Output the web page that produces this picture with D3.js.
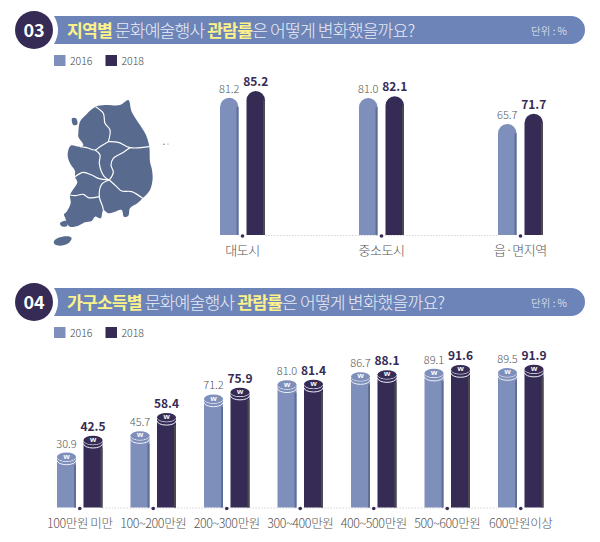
<!DOCTYPE html>
<html>
<head>
<meta charset="utf-8">
<script src="https://cdn.jsdelivr.net/npm/d3@7"></script>
<style>
  html, body { margin: 0; padding: 0; background: #fff; }
  svg { display: block; }
  text { font-family: "Noto Sans CJK KR", "Noto Sans", sans-serif; }
</style>
</head>
<body>
<div id="chart"></div>
<script>
const years = ['2016', '2018']

const regionNames = ['대도시', '중소도시', '읍·면지역']
const region2016 = [81.2, 81.0, 65.7]
const region2018 = [85.2, 82.1, 71.7]

const incomeNames = ['100만원 미만', '100~200만원', '200~300만원', '300~400만원', '400~500만원', '500~600만원', '600만원이상']
const income2016 = [30.9, 45.7, 71.2, 81.0, 86.7, 89.1, 89.5]
const income2018 = [42.5, 58.4, 75.9, 81.4, 88.1, 91.6, 91.9]

const light = '#7f8fbb'
const dark = '#352b55'
const banner = '#6d84b8'
const yellow = '#fdf28a'
const mapBlue = '#586b8f'

const svg = d3.select('#chart').append('svg').attr('width', 600).attr('height', 542)

function drawHeader(y, num, parts) {
  const g = svg.append('g').attr('transform', `translate(0, ${y})`)
  // banner with rounded right end, notched by the white ring of the badge
  g.append('path').attr('fill', banner)
    .attr('d', 'M54,0 H571 a14,14 0 0 1 0,28 H54 Q62,14 54,0 Z')
  g.append('circle').attr('cx', 34).attr('cy', 14).attr('r', 19).attr('fill', dark)
  g.append('text').attr('x', 34).attr('y', 20.5).attr('text-anchor', 'middle')
    .attr('fill', '#fff').attr('font-size', 18).attr('font-weight', 700).text(num)
  const t = g.append('text').attr('x', 67).attr('y', 20.5).attr('font-size', 17.2).attr('letter-spacing', -0.87)
  parts.forEach(p => {
    t.append('tspan').text(p[0])
      .attr('fill', p[1] ? yellow : '#e8ebf5')
      .attr('font-weight', p[1] ? 700 : 300)
  })
  g.append('text').attr('x', 531).attr('y', 18.5).attr('font-size', 10.5).attr('font-weight', 300)
    .attr('fill', '#eef0f7').text('단위 : %')
}

function drawLegend(y) {
  const g = svg.append('g').attr('transform', `translate(54, ${y})`)
  years.forEach((yr, i) => {
    g.append('rect').attr('x', i * 51.5).attr('y', 0).attr('width', 11.5).attr('height', 11)
      .attr('fill', i ? dark : light)
    g.append('text').attr('x', i * 51.5 + 16).attr('y', 10).attr('font-size', 10.5)
      .attr('font-weight', 300).attr('fill', '#444').text(yr)
  })
}

function drawBars(opts) {
  const { names, a, b, y, x0, step, barW, gap, baseY, coin, labelSize } = opts
  const g = svg.append('g')
  const xBand = d3.scalePoint().domain(names).range([x0, x0 + step * (names.length - 1)])

  // dotted base line between the groups
  g.append('line').attr('x1', x0 + barW * 2 + gap).attr('x2', x0 + step * (names.length - 1))
    .attr('y1', baseY + 0.5).attr('y2', baseY + 0.5)
    .attr('stroke', '#ccc').attr('stroke-width', 0.8).attr('stroke-dasharray', '1.5 1.5')

  names.forEach((name, i) => {
    const left = xBand(name)
    ;[a[i], b[i]].forEach((v, s) => {
      const bx = left + s * (barW + gap)
      const top = y(v)
      const fill = s ? dark : light
      const shade = s ? '#4a4a4f' : '#5f6f95'
      if (coin) {
        const ry = 4.3
        const rx = barW / 2
        const cy = top + ry
        g.append('rect').attr('x', bx).attr('y', cy).attr('width', barW).attr('height', baseY - cy).attr('fill', fill)
        g.append('rect').attr('x', bx + barW - 2).attr('y', cy + 8).attr('width', 2).attr('height', baseY - cy - 8).attr('fill', shade)
        // the coin stack: white rims under the cap
        ;[3.6, 0.3].forEach(dy => {
          g.append('path').attr('fill', 'none').attr('stroke', '#eef0f8').attr('stroke-width', 1)
            .attr('d', `M${bx},${cy + dy} a${rx},${ry} 0 0 0 ${barW},0`)
        })
        g.append('ellipse').attr('cx', bx + rx).attr('cy', cy).attr('rx', rx).attr('ry', ry).attr('fill', fill)
        g.append('text').attr('x', bx + rx).attr('y', cy + 2).attr('text-anchor', 'middle')
          .style('font-family', '"Liberation Sans"')
          .attr('font-size', 8).attr('font-weight', 700).attr('fill', '#fff').text('w')
      } else {
        const r = barW / 2
        g.append('path').attr('fill', fill)
          .attr('d', `M${bx},${baseY} V${top + r} a${r},${r} 0 0 1 ${barW},0 V${baseY} Z`)
        g.append('path').attr('fill', shade)
          .attr('d', `M${bx + barW - 2},${baseY} V${top + r} a${r},${r} 0 0 1 2,0 V${baseY} Z`)
      }
      g.append('text').attr('x', bx + barW / 2).attr('y', top - 5)
        .attr('text-anchor', 'middle')
        .attr('font-size', s ? 12 : 11)
        .attr('font-weight', s ? 700 : 300)
        .attr('fill', s ? dark : '#555')
        .text(v.toFixed(1))
    })
    g.append('circle').attr('cx', left + barW + gap / 2).attr('cy', baseY + 1).attr('r', 1.8).attr('fill', dark)
    g.append('text').attr('x', left + barW + gap / 2).attr('y', baseY + 20)
      .attr('text-anchor', 'middle').attr('font-size', labelSize).attr('font-weight', 300)
      .attr('fill', '#555').attr('letter-spacing', -0.4).text(name)
  })
}

// Korea map, traced by hand at 3x
const mainland = [[137,35],[165,30],[210,30],[235,15],[245,50],[270,90],[288,120],[298,155],[300,200],[305,220],[308,250],[300,285],[278,310],[262,325],[240,340],[235,362],[222,365],[215,345],[195,350],[175,355],[160,345],[152,370],[135,365],[125,378],[105,382],[85,392],[60,395],[50,385],[47,372],[42,358],[50,350],[62,325],[60,300],[72,280],[82,262],[75,245],[75,228],[60,205],[53,180],[62,152],[88,155],[100,150],[85,125],[85,115],[90,80],[105,62]]
const borders = [
  [[137,35],[160,55],[165,85],[180,105],[175,140]],
  [[175,140],[150,155],[135,165],[110,158],[90,155]],
  [[175,140],[205,142],[240,158],[298,155]],
  [[240,158],[215,175],[190,190],[183,210],[190,232],[178,255]],
  [[135,165],[150,180],[148,205],[163,245],[178,255]],
  [[75,245],[100,232],[125,240],[145,250],[178,255]],
  [[178,255],[155,268],[148,305],[158,335],[160,345]],
  [[60,300],[75,302],[100,298],[115,308],[148,305]],
  [[178,255],[200,275],[215,288],[245,290],[278,310]]
]
const islands = [
  [[12,438],[25,428],[55,424],[65,430],[55,445],[30,452],[14,448]],
  [[66,70],[78,70],[82,88],[70,90]],
  [[30,385],[48,378],[52,392],[35,394]]
]

const mapG = svg.append('g').attr('transform', 'translate(50, 95) scale(0.3333)')
const closed = d3.line().curve(d3.curveCatmullRomClosed.alpha(0.5))
const open = d3.line().curve(d3.curveCatmullRom.alpha(0.5))
mapG.append('path').attr('d', closed(mainland)).attr('fill', mapBlue)
islands.forEach(p => mapG.append('path').attr('d', closed(p)).attr('fill', mapBlue))
borders.forEach(p => {
  mapG.append('path').attr('d', open(p)).attr('fill', 'none').attr('stroke', '#fff').attr('stroke-width', 3.5)
})
mapG.append('circle').attr('cx', 342).attr('cy', 148).attr('r', 2.2).attr('fill', mapBlue)
mapG.append('circle').attr('cx', 354).attr('cy', 147).attr('r', 1.6).attr('fill', mapBlue)

drawHeader(16, '03', [['지역별', 1], [' 문화예술행사 ', 0], ['관람률', 1], ['은 어떻게 변화했을까요?', 0]])
drawLegend(55)
const yRegion = d3.scaleLinear().domain([0, 100]).range([235, 66])
drawBars({ names: regionNames, a: region2016, b: region2018, y: yRegion, x0: 220, step: 139, barW: 18.5, gap: 8, baseY: 235, coin: false, labelSize: 13 })

drawHeader(288, '04', [['가구소득별', 1], [' 문화예술행사 ', 0], ['관람률', 1], ['은 어떻게 변화했을까요?', 0]])
drawLegend(327)
const yIncome = d3.scaleLinear().domain([0, 100]).range([497, 353])
drawBars({ names: incomeNames, a: income2016, b: income2018, y: yIncome, x0: 57, step: 73.5, barW: 19, gap: 7.5, baseY: 507.5, coin: true, labelSize: 12.5 })
</script>
</body>
</html>
